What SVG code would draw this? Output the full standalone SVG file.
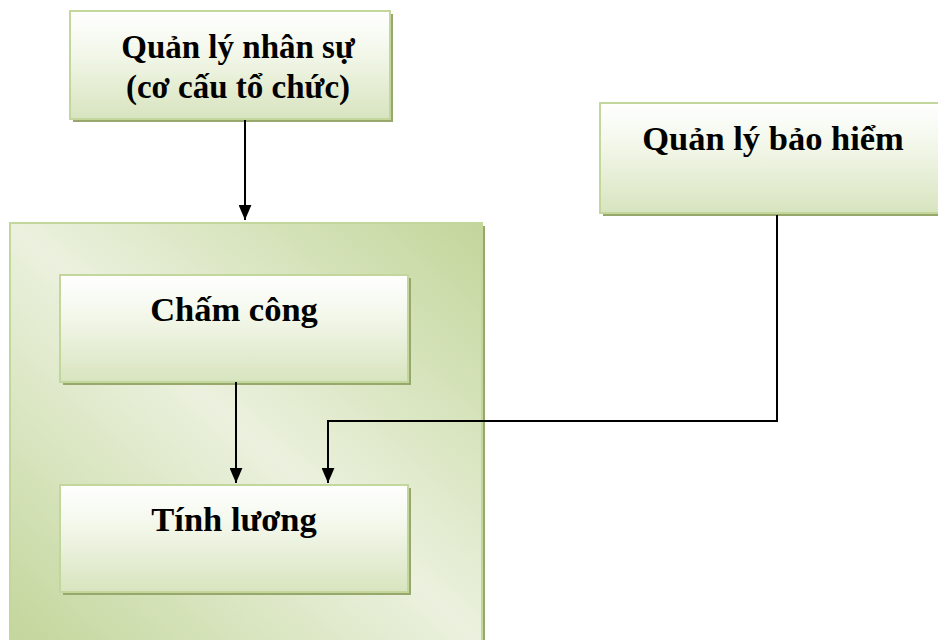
<svg xmlns="http://www.w3.org/2000/svg" width="938" height="640" viewBox="0 0 938 640">
<defs>
<linearGradient id="boxGrad" x1="0" y1="0" x2="0" y2="1">
<stop offset="0" stop-color="#ffffff"/>
<stop offset="0.35" stop-color="#f4f8ec"/>
<stop offset="1" stop-color="#d8e4bf"/>
</linearGradient>
<linearGradient id="outerGrad" x1="1" y1="0" x2="0" y2="1">
<stop offset="0" stop-color="#c3d69b"/>
<stop offset="0.5" stop-color="#ebf1de"/>
<stop offset="1" stop-color="#c3d69b"/>
</linearGradient>
<marker id="arrow" viewBox="0 0 14 12" refX="14" refY="6" markerWidth="7.5" markerHeight="6.5" orient="auto" markerUnits="strokeWidth">
<path d="M0,0 L14,6 L0,12 z" fill="#000"/>
</marker>
</defs>
<style>
.shadow{fill:#98a86c}
.box{fill:url(#boxGrad);stroke:#c3d69b;stroke-width:2}
.outer{fill:url(#outerGrad);stroke:#c3d69b;stroke-width:2}
.lbl{font-family:"Liberation Serif","Times New Roman",serif;font-weight:bold;font-size:33px;fill:#000;text-anchor:middle}
.lbl2{font-size:34.5px}
.conn{fill:none;stroke:#000;stroke-width:2}
</style>
<rect width="938" height="640" fill="#fff"/>
<g id="container">
<rect class="shadow" x="13" y="226" width="472" height="420"/>
<rect class="outer" x="10" y="223" width="472" height="420"/>
</g>
<g id="node-nhansu">
<rect class="shadow" x="73" y="14" width="320" height="108"/>
<rect class="box" x="70" y="11" width="320" height="108"/>
<text class="lbl" x="238" y="58">Quản lý nhân sự</text>
<text class="lbl" x="238" y="98">(cơ cấu tổ chức)</text>
</g>
<g id="node-baohiem">
<rect class="shadow" x="603" y="106" width="340" height="110"/>
<rect class="box" x="600" y="103" width="345" height="110"/>
<text class="lbl lbl2" x="773" y="150">Quản lý bảo hiểm</text>
</g>
<g id="node-chamcong">
<rect class="shadow" x="63" y="278" width="348" height="107"/>
<rect class="box" x="60" y="275" width="348" height="107"/>
<text class="lbl lbl2" x="234" y="321">Chấm công</text>
</g>
<g id="node-tinhluong">
<rect class="shadow" x="63" y="488" width="348" height="107"/>
<rect class="box" x="60" y="485" width="348" height="107"/>
<text class="lbl lbl2" x="234" y="531">Tính lương</text>
</g>
<g id="connectors">
<line class="conn" x1="245" y1="120" x2="245" y2="220" marker-end="url(#arrow)"/>
<line class="conn" x1="236" y1="382" x2="236" y2="483" marker-end="url(#arrow)"/>
<polyline class="conn" points="777,215 777,421 328,421 328,483" marker-end="url(#arrow)"/>
</g>
</svg>
